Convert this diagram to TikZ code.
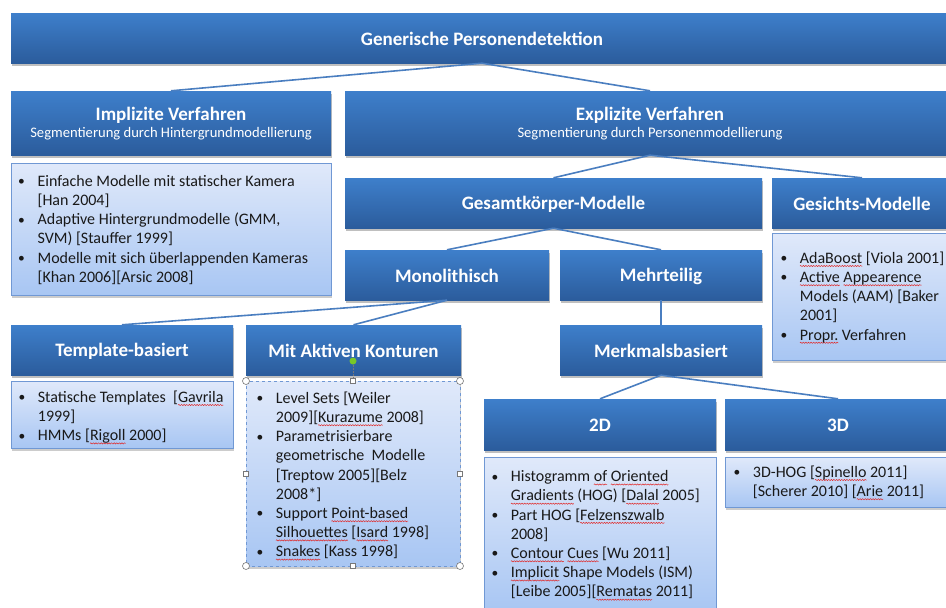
\documentclass[tikz,border=0pt]{standalone}
\usepackage{fontspec}
\setmainfont{Carlito}
\usetikzlibrary{shadows,decorations.pathmorphing}
\definecolor{boxtop}{RGB}{62,127,203}
\definecolor{boxbot}{RGB}{43,92,156}
\definecolor{listtop}{RGB}{224,233,250}
\definecolor{listbot}{RGB}{168,198,243}
\definecolor{listedge}{RGB}{112,152,212}
\definecolor{connc}{RGB}{74,126,192}
\definecolor{textc}{RGB}{25,25,25}
\definecolor{spellred}{RGB}{225,40,40}
\definecolor{handlegray}{RGB}{120,120,120}
\definecolor{rotgreen}{RGB}{120,200,40}
\newlength\bw
\setlength\bw{20pt}
\newlength\spw
\newcommand\bul{\makebox[\bw][l]{\hspace{0.6pt}\raisebox{0.6pt}{\fontsize{13.5}{13.5}\selectfont\textbullet}}}
\newcommand\ind{\hspace*{\bw}}
\newcommand\spell[1]{\setbox0\hbox{#1}\setlength\spw{\wd0}\rlap{\tikz[baseline=0pt,x=1pt,y=1pt]{\path[use as bounding box] (0pt,0pt) rectangle (0.1pt,0.1pt); \draw[spellred,line width=0.5pt,decorate,decoration={snake,amplitude=0.6pt,segment length=2.6pt}] (0pt,-2.8pt) -- (\spw,-2.8pt);}}\box0\relax}
\newcommand\fl{\rule{0pt}{14pt}}
\begin{document}
\begin{tikzpicture}[x=1pt,y=-1pt,
 dbox/.style={top color=boxtop,bottom color=boxbot,inner sep=0pt,
   drop shadow={shadow xshift=0.5pt,shadow yshift=-2.5pt,opacity=0.25,fill=black}},
 htext/.style={text=white,inner sep=0pt,font=\bfseries\fontsize{19}{22}\selectfont},
 stext/.style={text=white,inner sep=0pt,font=\fontsize{14.6}{17}\selectfont},
 lbox/.style={draw=listedge,line width=0.8pt,top color=listtop,bottom color=listbot,inner sep=0pt,
   drop shadow={shadow xshift=0.5pt,shadow yshift=-2.5pt,opacity=0.2,fill=black}},
 ltext/.style={anchor=north west,inner sep=0pt,align=left,text=textc,font=\fontsize{16}{19.2}\selectfont},
 conn/.style={draw=connc,line width=1.6pt},
 hcirc/.style={circle,draw=handlegray,fill=white,line width=0.6pt,inner sep=0pt,minimum size=7pt},
 hsq/.style={rectangle,draw=handlegray,fill=white,line width=0.6pt,inner sep=0pt,minimum size=5pt}]
\useasboundingbox (0,0) rectangle (946,608);
\fill[white] (0,0) rectangle (946,608);
% dark boxes
\node[dbox,minimum width=942pt,minimum height=50pt] (top) at (482,38) {};
\node[htext] (topt) at (482,39) {Generische Personendetektion};
\node[dbox,minimum width=320pt,minimum height=64pt] (impl) at (171,123) {};
\node[htext] (implt) at (171,115) {Implizite Verfahren};
\node[stext] (impls) at (171,134) {Segmentierung durch Hintergrundmodellierung};
\node[dbox,minimum width=610pt,minimum height=64pt] (expl) at (650,123) {};
\node[htext] (explt) at (650,115) {Explizite Verfahren};
\node[stext] (expls) at (650,134) {Segmentierung durch Personenmodellierung};
\node[dbox,minimum width=417pt,minimum height=50pt] (gesamt) at (553.5,203) {};
\node[htext] (gesamtt) at (553.5,204) {Gesamtkörper-Modelle};
\node[dbox,minimum width=180pt,minimum height=50pt] (gesicht) at (862,203) {};
\node[htext] (gesichtt) at (862,204) {Gesichts-Modelle};
\node[dbox,minimum width=204pt,minimum height=50pt] (mono) at (447,275) {};
\node[htext] (monot) at (447,276) {Monolithisch};
\node[dbox,minimum width=202pt,minimum height=50pt] (mehr) at (661,275) {};
\node[htext] (mehrt) at (661,276) {Mehrteilig};
\node[dbox,minimum width=222pt,minimum height=50pt] (templ) at (122,350) {};
\node[htext] (templt) at (122,351) {Template-basiert};
\node[dbox,minimum width=215pt,minimum height=50pt] (aktiv) at (353.5,350) {};
\node[htext] (aktivt) at (353.5,351) {Mit Aktiven Konturen};
\node[dbox,minimum width=202pt,minimum height=50pt] (merk) at (661,350) {};
\node[htext] (merkt) at (661,351) {Merkmalsbasiert};
\node[dbox,minimum width=232pt,minimum height=51pt] (d2) at (600,424.5) {};
\node[htext] (d2t) at (600,425) {2D};
\node[dbox,minimum width=226pt,minimum height=51pt] (d3) at (838,424.5) {};
\node[htext] (d3t) at (838,425) {3D};
% connectors
\draw[conn] (top.south) -- (impl.north);
\draw[conn] (top.south) -- (expl.north);
\draw[conn] (expl.south) -- (gesamt.north);
\draw[conn] (expl.south) -- (gesicht.north);
\draw[conn] (gesamt.south) -- (mono.north);
\draw[conn] (gesamt.south) -- (mehr.north);
\draw[conn] (mono.south) -- (templ.north);
\draw[conn] (mono.south) -- (aktiv.north);
\draw[conn] (mehr.south) -- (merk.north);
\draw[conn] (merk.south) -- (d2.north);
\draw[conn] (merk.south) -- (d3.north);
% list boxes
\node[lbox,minimum width=320pt,minimum height=132pt] (limpl) at (171,229) {};
\node[ltext] (timpl) at (17.4,172) {\fl\bul Einfache Modelle mit statischer Kamera\\ \ind [Han 2004]\\ \bul Adaptive Hintergrundmodelle (GMM,\\ \ind SVM) [Stauffer 1999]\\ \bul Modelle mit sich überlappenden Kameras\\ \ind [Khan 2006][Arsic 2008]};
\node[lbox,minimum width=222pt,minimum height=67pt] (ltempl) at (122,414.5) {};
\node[ltext] (ttempl) at (17.7,388) {\fl\bul Statische Templates \ [\spell{Gavrila}\\ \ind 1999]\\ \bul HMMs [\spell{Rigoll} 2000]};
\node[lbox,dashed,minimum width=214pt,minimum height=185pt] (laktiv) at (353,473.5) {};
\node[ltext] (taktiv) at (255.7,389) {\fl\bul Level Sets [Weiler\\ \ind 2009][\spell{Kurazume} 2008]\\ \bul Parametrisierbare\\ \ind geometrische \ Modelle\\ \ind [Treptow 2005][Belz\\ \ind 2008*]\\ \bul Support \spell{Point-based}\\ \ind \spell{Silhouettes} [\spell{Isard} 1998]\\ \bul \spell{Snakes} [Kass 1998]};
\node[lbox,minimum width=180pt,minimum height=127pt] (lgesicht) at (862,296.5) {};
\node[ltext] (tgesicht) at (779.7,249) {\fl\bul \spell{AdaBoost} [Viola 2001]\\ \bul \spell{Active} \spell{Appearence}\\ \ind Models (AAM) [Baker\\ \ind 2001]\\ \bul \spell{Propr.} Verfahren};
\node[lbox,minimum width=232pt,minimum height=155pt] (l2d) at (600,534.5) {};
\node[ltext] (t2d) at (490.7,467.5) {\fl\bul Histogramm \spell{of} \spell{Oriented}\\ \ind \spell{Gradients} (HOG) [\spell{Dalal} 2005]\\ \bul Part HOG [\spell{Felzenszwalb}\\ \ind 2008]\\ \bul \spell{Contour} \spell{Cues} [Wu 2011]\\ \bul \spell{Implicit} Shape Models (ISM)\\ \ind [Leibe 2005][\spell{Rematas} 2011]};
\node[lbox,minimum width=226pt,minimum height=50pt] (l3d) at (838,482) {};
\node[ltext] (t3d) at (732.7,463) {\fl\bul 3D-HOG [\spell{Spinello} 2011]\\ \ind [Scherer 2010] [\spell{Arie} 2011]};
% selection handles
\node[circle,fill=rotgreen,inner sep=0pt,minimum size=7pt] (rot) at (353,361) {};
\node[hsq] (h2) at (353,381) {};
\draw[handlegray,densely dotted,line width=0.5pt] (rot) -- (h2);
\node[hcirc] (h1) at (246,381) {};
\node[hcirc] (h3) at (460,381) {};
\node[hsq] (h4) at (246,474) {};
\node[hsq] (h5) at (460,474) {};
\node[hcirc] (h6) at (246,566) {};
\node[hsq] (h7) at (353,566) {};
\node[hcirc] (h8) at (460,566) {};
\end{tikzpicture}
\end{document}
